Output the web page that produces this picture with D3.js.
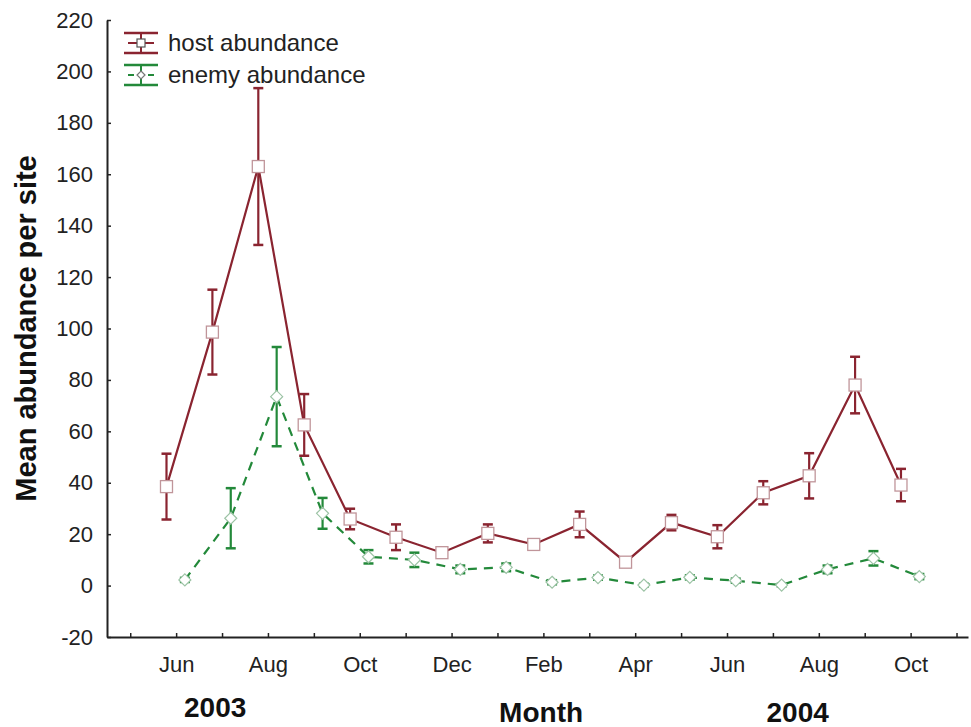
<!DOCTYPE html>
<html>
<head>
<meta charset="utf-8">
<script src="https://cdn.jsdelivr.net/npm/d3@7"></script>
<style>
  html, body { margin: 0; padding: 0; background: #fff; }
  svg { display: block; font-family: "Liberation Sans", Arial, sans-serif; }
</style>
</head>
<body>
<svg id="chart" width="971" height="727"></svg>
<script>
// Monthly sampling, June 2003 to October 2004
const sampleMonths = ["Jun 2003","Jul 2003","Aug 2003","Sep 2003","Oct 2003","Nov 2003","Dec 2003",
  "Jan 2004","Feb 2004","Mar 2004","Apr 2004","May 2004","Jun 2004","Jul 2004","Aug 2004","Sep 2004","Oct 2004"];

// Mean host abundance per site and its error (±)
const hostMean = [38.5, 98.6, 163, 62.5, 25.9, 18.8, 12.8, 20.3, 16, 23.8, 9.1, 24.5, 19, 36.1, 42.7, 78, 39.1];
const hostErr  = [12.8, 16.5, 30.5, 12, 4, 5, 1, 3.5, 1, 5, 1, 3, 4.5, 4.5, 8.8, 11, 6.3];

// Mean enemy abundance per site and its error (±)
const enemyMean = [2.2, 26.2, 73.5, 28.1, 11.2, 10, 6.3, 7.1, 1.3, 3.1, 0.2, 3.2, 1.9, 0.2, 6.3, 10.6, 3.5];
const enemyErr  = [0.8, 11.7, 19.3, 6, 2.6, 2.8, 1.5, 1.5, 0.8, 0.8, 0.5, 0.8, 0.8, 0.5, 1.5, 2.8, 1];

// Axis ticks: every month from May 2003 to Nov 2004, labelled every other month
const tickMonths = ["May","Jun","Jul","Aug","Sep","Oct","Nov","Dec","Jan","Feb","Mar","Apr",
  "May","Jun","Jul","Aug","Sep","Oct","Nov"];
const yTicks = [-20, 0, 20, 40, 60, 80, 100, 120, 140, 160, 180, 200, 220];

const seriesNames = ["host abundance", "enemy abundance"];
const yearLabels = ["2003", "2004"];

const svg = d3.select("#chart");
const hostColor = "#8a2430";
const enemyColor = "#23893a";

// Month index: 0 = Jun 2003
const x = d3.scaleLinear().domain([-1.506, 17.25]).range([107, 968]);
const y = d3.scaleLinear().domain([-20, 220]).range([637, 20]);

const hostOffset = -0.21, enemyOffset = 0.19;

// Axes
const xAxis = d3.axisBottom(x)
  .tickValues(d3.range(-1, 18))
  .tickSizeInner(-4).tickSizeOuter(0).tickPadding(19)
  .tickFormat((d, i) => (i % 2 === 1 ? tickMonths[i] : ""));
const gx = svg.append("g").attr("transform", "translate(0,637)").call(xAxis);
gx.select(".domain").attr("stroke", "#222").attr("stroke-width", 2);
gx.selectAll(".tick line").attr("stroke", "#222").attr("stroke-width", 1.5);
gx.selectAll(".tick text").attr("font-size", 22).attr("fill", "#222")
  .attr("font-family", "Liberation Sans, Arial, sans-serif");

const yAxis = d3.axisLeft(y).tickValues(yTicks)
  .tickSizeInner(-4).tickSizeOuter(0).tickPadding(14)
  .tickFormat(d => String(d));
const gy = svg.append("g").attr("transform", "translate(107,0)").call(yAxis);
gy.select(".domain").attr("stroke", "#222").attr("stroke-width", 2);
gy.selectAll(".tick line").attr("stroke", "#222").attr("stroke-width", 1.5);
gy.selectAll(".tick text").attr("font-size", 22).attr("fill", "#222")
  .attr("font-family", "Liberation Sans, Arial, sans-serif");

// Titles
svg.append("text")
  .attr("transform", `translate(36,${(y(220) + y(-20)) / 2}) rotate(-90)`)
  .attr("text-anchor", "middle").attr("font-weight", "bold").attr("font-size", 29)
  .attr("fill", "#111").text("Mean abundance per site");
svg.append("text").attr("x", x(7.95)).attr("y", 722)
  .attr("text-anchor", "middle").attr("font-weight", "bold").attr("font-size", 28)
  .attr("fill", "#111").text("Month");
svg.append("text").attr("x", x(0.85)).attr("y", 717)
  .attr("text-anchor", "middle").attr("font-weight", "bold").attr("font-size", 28)
  .attr("fill", "#111").text(yearLabels[0]);
svg.append("text").attr("x", x(13.54)).attr("y", 722)
  .attr("text-anchor", "middle").attr("font-weight", "bold").attr("font-size", 28)
  .attr("fill", "#111").text(yearLabels[1]);

// Draws one series: error bars, connecting line, markers
function drawSeries(means, errs, offset, color, dashed, marker) {
  const g = svg.append("g");
  const pts = means.map((m, i) => ({ i, m, e: errs[i], px: x(i + offset) }));

  const line = d3.line().x(d => d.px).y(d => y(d.m));
  g.append("path").datum(pts).attr("d", line)
    .attr("fill", "none").attr("stroke", color).attr("stroke-width", 2.2)
    .attr("stroke-dasharray", dashed ? "9,7" : null);

  const eb = g.selectAll(".eb").data(pts).join("g");
  eb.append("line").attr("x1", d => d.px).attr("x2", d => d.px)
    .attr("y1", d => y(d.m + d.e)).attr("y2", d => y(d.m - d.e))
    .attr("stroke", color).attr("stroke-width", 2.2);
  [1, -1].forEach(s => {
    eb.append("line").attr("x1", d => d.px - 5).attr("x2", d => d.px + 5)
      .attr("y1", d => y(d.m + s * d.e)).attr("y2", d => y(d.m + s * d.e))
      .attr("stroke", color).attr("stroke-width", 2.5);
  });

  if (marker === "square") {
    g.selectAll(".mk").data(pts).join("rect")
      .attr("x", d => d.px - 6).attr("y", d => y(d.m) - 6)
      .attr("width", 12).attr("height", 12)
      .attr("fill", "#fff").attr("stroke", "#c0959a").attr("stroke-width", 1.3);
  } else {
    g.selectAll(".mk").data(pts).join("path")
      .attr("transform", d => `translate(${d.px},${y(d.m)})`)
      .attr("d", "M0,-6L6,0L0,6L-6,0Z")
      .attr("fill", "#fff").attr("stroke", "#9cc3a5").attr("stroke-width", 1.2);
  }
}

drawSeries(enemyMean, enemyErr, enemyOffset, enemyColor, true, "diamond");
drawSeries(hostMean, hostErr, hostOffset, hostColor, false, "square");

// Legend
const legend = svg.append("g");
const legendItems = [
  { name: seriesNames[0], color: hostColor, cy: 43, marker: "square", dashed: false },
  { name: seriesNames[1], color: enemyColor, cy: 75, marker: "diamond", dashed: true }
];
legendItems.forEach(it => {
  const lg = legend.append("g");
  const x0 = 124, x1 = 158, cx = 141;
  lg.append("line").attr("x1", x0).attr("x2", x1).attr("y1", it.cy - 10).attr("y2", it.cy - 10)
    .attr("stroke", it.color).attr("stroke-width", 2.5);
  lg.append("line").attr("x1", x0).attr("x2", x1).attr("y1", it.cy + 10).attr("y2", it.cy + 10)
    .attr("stroke", it.color).attr("stroke-width", 2.5);
  lg.append("line").attr("x1", x0 + 4).attr("x2", x1 - 4).attr("y1", it.cy).attr("y2", it.cy)
    .attr("stroke", it.color).attr("stroke-width", 2)
    .attr("stroke-dasharray", it.dashed ? "6,4" : null);
  lg.append("line").attr("x1", cx).attr("x2", cx).attr("y1", it.cy - 10).attr("y2", it.cy + 10)
    .attr("stroke", it.color).attr("stroke-width", 2);
  if (it.marker === "square") {
    lg.append("rect").attr("x", cx - 4).attr("y", it.cy - 4).attr("width", 8).attr("height", 8)
      .attr("fill", "#fff").attr("stroke", "#555").attr("stroke-width", 1.2);
  } else {
    lg.append("path").attr("transform", `translate(${cx},${it.cy})`)
      .attr("d", "M0,-4L4,0L0,4L-4,0Z")
      .attr("fill", "#fff").attr("stroke", "#777").attr("stroke-width", 1.2);
  }
  lg.append("text").attr("x", 168).attr("y", it.cy + 8)
    .attr("font-size", 24).attr("fill", "#222").text(it.name);
});
</script>
</body>
</html>
